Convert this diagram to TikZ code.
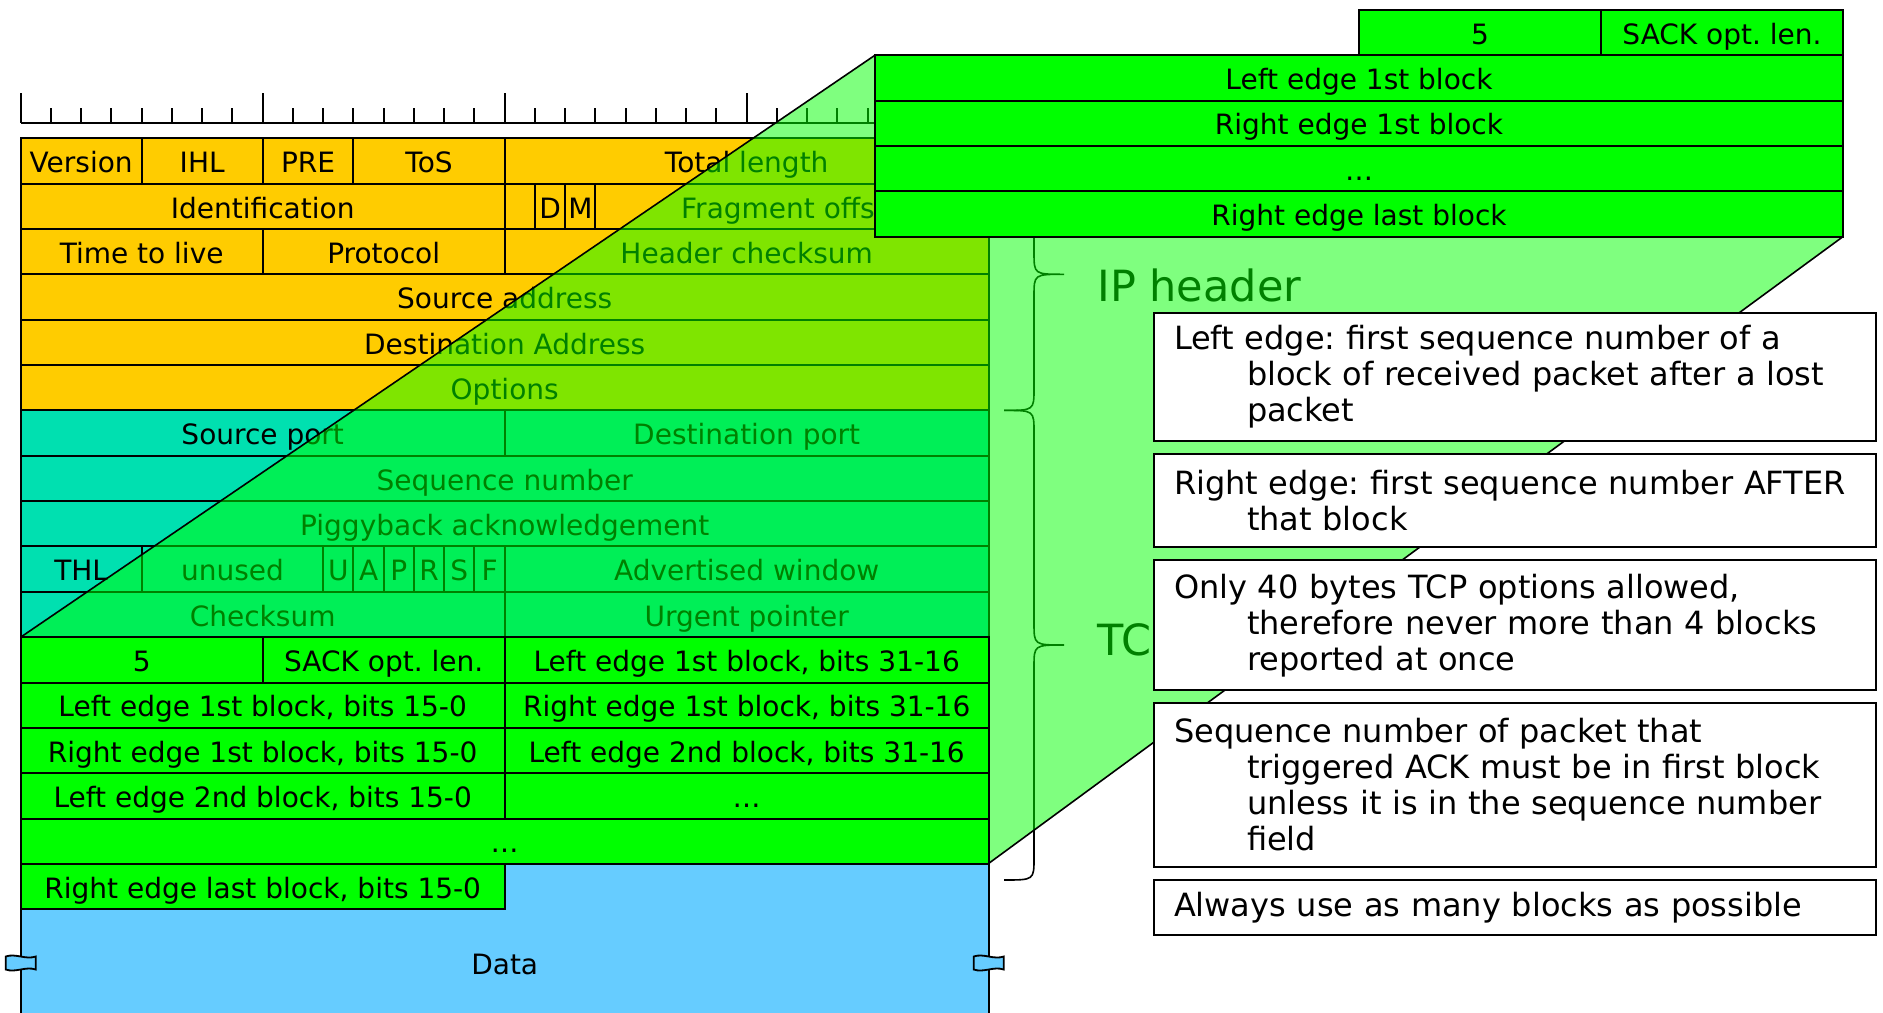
\documentclass[tikz,border=0pt]{standalone}
\usepackage{fontspec}
\setmainfont{DejaVu Sans}
\usepackage{xcolor}
\usepackage{tikz}
\usetikzlibrary{positioning}

\definecolor{ipyellow}{HTML}{FFCC00}
\definecolor{tcpteal}{HTML}{00E0B0}
\definecolor{sackgreen}{HTML}{00FF00}
\definecolor{datablue}{HTML}{66CCFF}

\frenchspacing

\begin{document}
\begin{tikzpicture}[
    x=0.5pt, y=-0.5pt,
    cell/.style={draw, line width=1pt, inner sep=0pt, outer sep=0pt, anchor=north west,
        minimum height=22.675pt, text height=12pt, text depth=0.3pt,
        font=\fontsize{14}{16}\selectfont},
    note/.style={draw, line width=1pt, fill=white, inner xsep=10pt, inner ysep=4pt, outer sep=0pt,
        text width=341pt, align=left, execute at begin node={\parindent=0pt},
        font=\fontsize{16}{18}\selectfont},
    hdrlabel/.style={anchor=base west, inner sep=0pt, font=\fontsize{21.5}{26}\selectfont},
    hdrbrace/.style={line width=0.8pt},
    rulerline/.style={line width=1pt},
    diag/.style={line width=0.8pt},
    breakmark/.pic={\draw[line width=0.9pt, fill=datablue] (-15,-6.5) .. controls (-5,-10) and (5,-3) .. (15,-6.5)
        -- (15,6.5) .. controls (5,3) and (-5,10) .. (-15,6.5) -- cycle;},
    node distance=6.5pt
]
\path[use as bounding box, fill=white] (0,0) rectangle (1883,1012);

\draw[rulerline] (20.7,122.7) -- (988,122.7);
\foreach \b in {0,...,32}
    \draw[rulerline] ({20.7+30.25*\b},122.7) -- ++(0,-14.4);
\foreach \b in {0,8,...,32}
    \draw[rulerline] ({20.7+30.25*\b},122.7) -- ++(0,-29.4);

\foreach \r/\a/\b/\t in {0/0/4/Version, 0/4/8/IHL, 0/8/11/PRE, 0/11/16/ToS, 0/16/32/Total length,
        1/0/16/Identification, 1/16/17/{}, 1/17/18/D, 1/18/19/M, 1/19/32/Fragment offset,
        2/0/8/Time to live, 2/8/16/Protocol, 2/16/32/Header checksum,
        3/0/32/Source address, 4/0/32/Destination Address, 5/0/32/Options}
    \node[cell, fill=ipyellow, minimum width={(\b-\a)*15.125pt}] (c\r-\a) at ({20.7+30.25*\a},{138.3+45.35*\r}) {\t};

\foreach \r/\a/\b/\t in {6/0/16/Source port, 6/16/32/Destination port,
        7/0/32/Sequence number, 8/0/32/Piggyback acknowledgement,
        9/0/4/THL, 9/4/10/unused, 9/10/11/U, 9/11/12/A, 9/12/13/P, 9/13/14/R, 9/14/15/S, 9/15/16/F,
        9/16/32/Advertised window, 10/0/16/Checksum, 10/16/32/Urgent pointer}
    \node[cell, fill=tcpteal, minimum width={(\b-\a)*15.125pt}] (c\r-\a) at ({20.7+30.25*\a},{138.3+45.35*\r}) {\t};

\draw[hdrbrace] (1004,138.3) .. controls (1034,138.3) .. (1034,160.3) -- (1034,252.3)
    .. controls (1034,274.3) .. (1064,274.3) .. controls (1034,274.3) .. (1034,296.3)
    -- (1034,388.4) .. controls (1034,410.4) .. (1004,410.4);
\draw[hdrbrace] (1004,410.4) .. controls (1034,410.4) .. (1034,432.4) -- (1034,623)
    .. controls (1034,645) .. (1064,645) .. controls (1034,645) .. (1034,667)
    -- (1034,858) .. controls (1034,880) .. (1004,880);
\node[hdrlabel] (iphdr) at (1097,301.7) {IP header};
\node[hdrlabel] (tcphdr) at (1097,655) {TCP header};

\coordinate (stop) at (20.7,637.15);
\coordinate (sbot) at (988,863.9);
\coordinate (ztop) at (875,55.2);
\coordinate (zbot) at (1843,236.6);

\node[cell, fill=datablue, minimum width=484pt, minimum height=99.1pt] (data) at (stop |- sbot) {Data};
\pic at (data.west) {breakmark};
\pic at (data.east) {breakmark};

\fill[sackgreen, opacity=0.5] (stop) -- (ztop) -- (ztop -| zbot) -- (zbot) -- (sbot) -- (stop |- sbot) -- cycle;

\foreach \r/\a/\b/\t in {11/0/8/5, 11/8/16/SACK opt. len., 11/16/32/{Left edge 1st block, bits 31-16},
        12/0/16/{Left edge 1st block, bits 15-0}, 12/16/32/{Right edge 1st block, bits 31-16},
        13/0/16/{Right edge 1st block, bits 15-0}, 13/16/32/{Left edge 2nd block, bits 31-16},
        14/0/16/{Left edge 2nd block, bits 15-0}, 14/16/32/\ldots, 15/0/32/\ldots,
        16/0/16/{Right edge last block, bits 15-0}}
    \node[cell, fill=sackgreen, minimum width={(\b-\a)*15.125pt}] (c\r-\a) at ({20.7+30.25*\a},{138.3+45.35*\r}) {\t};

\draw[diag] (stop) -- (ztop);
\draw[diag] (sbot) -- (zbot);

\node[cell, fill=sackgreen, minimum width=484pt] (zleft) at (ztop) {Left edge 1st block};
\node[cell, fill=sackgreen, minimum width=484pt, below=0pt of zleft] (zright) {Right edge 1st block};
\node[cell, fill=sackgreen, minimum width=484pt, below=0pt of zright] (zdots) {\ldots};
\node[cell, fill=sackgreen, minimum width=484pt, below=0pt of zdots] (zlast) {Right edge last block};
\node[cell, fill=sackgreen, minimum width=121pt, anchor=south west] (zkind) at (zleft.north) {5};
\node[cell, fill=sackgreen, minimum width=121pt, right=0pt of zkind] (zlen) {SACK opt. len.};

\node[note, minimum height=63.6pt, anchor=north west] (nleft) at (1154,313.4)
    {Left edge: first sequence number of a\\\hspace*{36.5pt}block of received packet after a lost\\\hspace*{36.5pt}packet};
\node[note, minimum height=46.9pt, below=of nleft] (nright)
    {Right edge: first sequence number AFTER\\\hspace*{36.5pt}that block};
\node[note, minimum height=64.8pt, below=of nright] (nlimit)
    {Only 40 bytes TCP options allowed,\\\hspace*{36.5pt}therefore never more than 4 blocks\\\hspace*{36.5pt}reported at once};
\node[note, minimum height=81.75pt, below=of nlimit] (ntrigger)
    {Sequence number of packet that\\\hspace*{36.5pt}triggered ACK must be in first block\\\hspace*{36.5pt}unless it is in the sequence number\\\hspace*{36.5pt}field};
\node[note, minimum height=27.75pt, below=of ntrigger] (nmany) {Always use as many blocks as possible};
\end{tikzpicture}
\end{document}
